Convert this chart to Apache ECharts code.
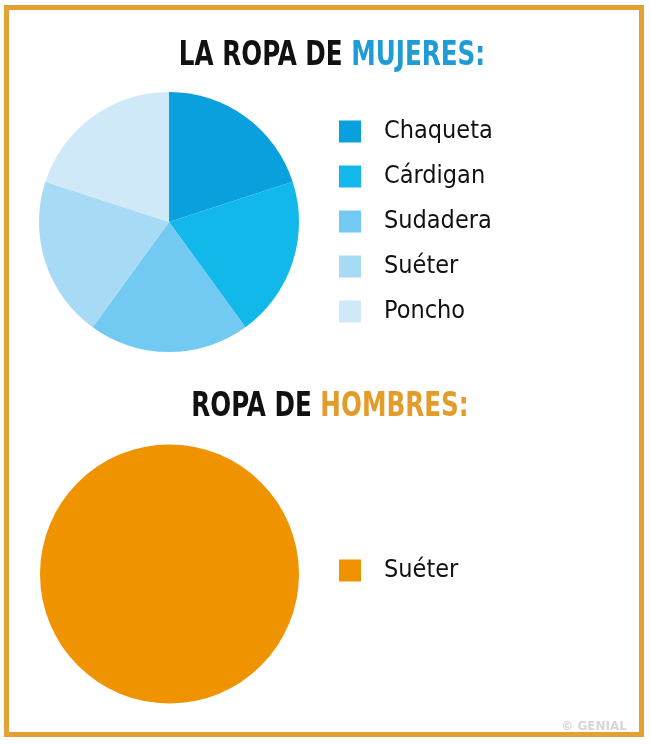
<!DOCTYPE html>
<html>
<head>
<meta charset="utf-8">
<script src="https://cdn.jsdelivr.net/npm/echarts@6/dist/echarts.min.js"></script>
<style>
html,body{margin:0;padding:0;background:#fff;}
#chart{width:650px;height:744px;}
</style>
</head>
<body>
<div id="chart"></div>
<script>
const categoriesMujeres = ['Chaqueta', 'Cárdigan', 'Sudadera', 'Suéter', 'Poncho'];
const valuesMujeres = [20, 20, 20, 20, 20];
const colorsMujeres = ['#0A9FDD', '#12B8EA', '#72C9F1', '#A6DAF5', '#CFE9F9'];
const categoriesHombres = ['Suéter'];
const valuesHombres = [100];
const colorsHombres = ['#EF9300'];

const chart = echarts.init(document.getElementById('chart'), null, {renderer: 'canvas'});
const FONT = '"DejaVu Sans Condensed", "DejaVu Sans", sans-serif';

const titleRich = (accent) => ({
  b: {fontFamily: FONT, fontWeight: 'bold', fontSize: 33, fill: '#111111', color: '#111111'},
  c: {fontFamily: FONT, fontWeight: 'bold', fontSize: 33, fill: accent, color: accent}
});

const legendText = {fontFamily: FONT, fontSize: 25, fontWeight: 500, lineHeight: 22, color: '#111111', padding: [0, 0, 0, 18]};

const option = {
  backgroundColor: '#ffffff',
  animation: false,
  title: [
    {
      text: '© GENIAL',
      right: 18, top: 716,
      textStyle: {fontFamily: '"DejaVu Sans", sans-serif', fontSize: 12, fontWeight: 'bold', color: '#D6D6D6'}
    }
  ],
  legend: [
    {
      data: categoriesMujeres,
      orient: 'vertical',
      left: 334, top: 114,
      icon: 'rect',
      itemWidth: 22, itemHeight: 22, itemGap: 20,
      textStyle: legendText
    },
    {
      data: categoriesHombres.map((n, i) => ({name: n, itemStyle: {color: colorsHombres[i]}})),
      orient: 'vertical',
      left: 334, top: 553,
      icon: 'rect',
      itemWidth: 22, itemHeight: 22, itemGap: 20,
      textStyle: legendText
    }
  ],
  graphic: [
    {
      type: 'rect',
      shape: {x: 6.5, y: 7.5, width: 635, height: 727},
      style: {fill: 'none', stroke: '#E2A132', lineWidth: 5},
      silent: true
    },
    {
      type: 'text',
      x: 332, y: 56,
      scaleX: 0.83,
      silent: true,
      style: {
        text: '{b|LA ROPA DE }{c|MUJERES:}',
        align: 'center', verticalAlign: 'middle',
        rich: titleRich('#1E9CD7')
      }
    },
    {
      type: 'text',
      x: 330, y: 407,
      scaleX: 0.83,
      silent: true,
      style: {
        text: '{b|ROPA DE }{c|HOMBRES:}',
        align: 'center', verticalAlign: 'middle',
        rich: titleRich('#E39B2A')
      }
    }
  ],
  series: [
    {
      type: 'pie',
      center: [169, 222],
      radius: 130,
      startAngle: 90,
      label: {show: false},
      labelLine: {show: false},
      itemStyle: {borderWidth: 0},
      data: categoriesMujeres.map((n, i) => ({name: n, value: valuesMujeres[i], itemStyle: {color: colorsMujeres[i]}}))
    },
    {
      type: 'pie',
      center: [169.5, 574],
      radius: 129.5,
      startAngle: 90,
      label: {show: false},
      labelLine: {show: false},
      itemStyle: {borderWidth: 0},
      data: categoriesHombres.map((n, i) => ({name: n, value: valuesHombres[i], itemStyle: {color: colorsHombres[i]}}))
    }
  ]
};
chart.setOption(option);
</script>
</body>
</html>
